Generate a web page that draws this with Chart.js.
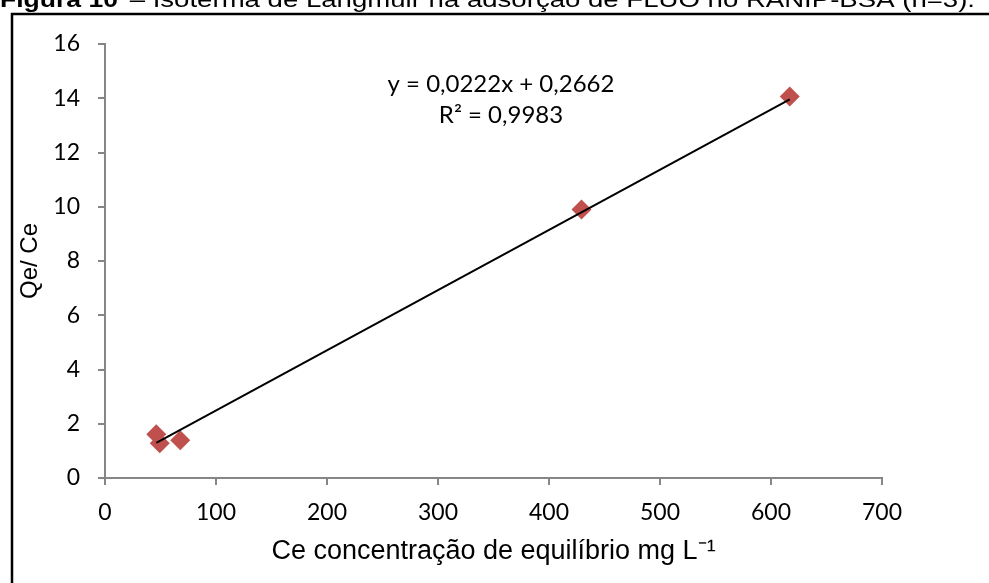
<!DOCTYPE html>
<html>
<head>
<meta charset="utf-8">
<script src="https://cdn.jsdelivr.net/npm/chart.js@4.4.1/dist/chart.umd.min.js"></script>
<style>
  html, body { margin: 0; padding: 0; background: #fff; }
  #wrap { width: 989px; height: 583px; }
</style>
</head>
<body>
<div id="wrap"><canvas id="chart" width="989" height="583"></canvas></div>
<script>
// Langmuir isotherm: Qe/Ce against the equilibrium concentration Ce
var ceValues = [46.2, 49.3, 67.8, 429.3, 616.9];
var qeCeValues = [1.61, 1.28, 1.39, 9.90, 14.06];
var xTicks = [0, 100, 200, 300, 400, 500, 600, 700];
var yTicks = [0, 2, 4, 6, 8, 10, 12, 14, 16];

// linear fit shown on the chart
var slope = 0.0222;
var intercept = 0.2662;
var rSquared = 0.9983;

var caption = ['Figura 10', ' – Isoterma de Langmuir na adsorção de FLUO no RANIP-BSA (n=3).'];

var AXIS_GREY = '#868686';

function ptBr(v, digits) {
  return v.toFixed(digits).replace('.', ',');
}

var points = ceValues.map(function (x, i) { return { x: x, y: qeCeValues[i] }; });
var xMin = Math.min.apply(null, ceValues);
var xMax = Math.max.apply(null, ceValues);
var trend = [
  { x: xMin, y: slope * xMin + intercept },
  { x: xMax, y: slope * xMax + intercept }
];

// draws text squeezed/stretched horizontally into [x0, x1]
function fitText(ctx, text, x0, x1, y) {
  var w = ctx.measureText(text).width;
  ctx.save();
  ctx.translate(x0, y);
  ctx.scale((x1 - x0) / w, 1);
  ctx.fillText(text, 0, 0);
  ctx.restore();
}

// caption strip, outer frame and the fit equation
var decorations = {
  id: 'decorations',
  beforeDraw: function (chart) {
    var ctx = chart.ctx;
    ctx.save();
    ctx.fillStyle = '#fff';
    ctx.fillRect(0, 0, chart.width, chart.height);

    // caption, only its lower half fits above the frame
    ctx.fillStyle = '#000';
    ctx.textBaseline = 'alphabetic';
    ctx.font = 'bold 22px "Liberation Sans", Arial, sans-serif';
    fitText(ctx, caption[0], 0, 118, 7);
    ctx.font = '22px "Liberation Sans", Arial, sans-serif';
    fitText(ctx, caption[1], 122, 975, 7);

    // frame
    ctx.strokeStyle = '#000';
    ctx.lineWidth = 2.5;
    ctx.beginPath();
    ctx.moveTo(12, chart.height);
    ctx.lineTo(12, 14);
    ctx.lineTo(chart.width, 14);
    ctx.stroke();
    ctx.restore();
  },
  afterDatasetsDraw: function (chart) {
    var ctx = chart.ctx;
    ctx.save();
    ctx.fillStyle = '#000';
    ctx.font = '24px Lato, sans-serif';
    ctx.textAlign = 'center';
    ctx.textBaseline = 'middle';
    ctx.fillText('y = ' + ptBr(slope, 4) + 'x + ' + ptBr(intercept, 4), 501, 84);
    ctx.fillText('R² = ' + ptBr(rSquared, 4), 501, 115);
    ctx.restore();
  }
};

new Chart(document.getElementById('chart'), {
  type: 'scatter',
  data: {
    datasets: [
      {
        type: 'line',
        label: 'Linear',
        data: trend,
        borderColor: '#000',
        borderWidth: 2,
        pointRadius: 0,
        fill: false,
        order: 0
      },
      {
        label: 'Qe/Ce',
        data: points,
        pointStyle: 'rectRot',
        pointRadius: 10,
        pointHoverRadius: 10,
        backgroundColor: '#C0504D',
        borderColor: '#C0504D',
        borderWidth: 0,
        order: 1
      }
    ]
  },
  options: {
    responsive: false,
    animation: false,
    layout: { padding: { top: 44, right: 107, left: 0, bottom: 0 } },
    plugins: {
      legend: { display: false },
      tooltip: { enabled: false }
    },
    scales: {
      x: {
        type: 'linear',
        min: 0,
        max: 700,
        afterBuildTicks: function (scale) {
          scale.ticks = xTicks.map(function (v) { return { value: v }; });
        },
        afterFit: function (scale) { scale.height = 105; },
        border: { color: AXIS_GREY, width: 2 },
        grid: { drawOnChartArea: false, drawTicks: true, tickLength: 7, color: AXIS_GREY, lineWidth: 2 },
        ticks: {
          padding: 14,
          maxRotation: 0,
          color: '#000',
          font: { family: 'Lato', size: 23 }
        },
        title: {
          display: true,
          text: 'Ce concentração de equilíbrio mg L⁻¹',
          color: '#000',
          font: { family: '"Liberation Sans", Arial', size: 27 },
          padding: { top: 4, bottom: 15 }
        }
      },
      y: {
        min: 0,
        max: 16,
        afterBuildTicks: function (scale) {
          scale.ticks = yTicks.map(function (v) { return { value: v }; });
        },
        afterFit: function (scale) { scale.width = 105; },
        border: { color: AXIS_GREY, width: 2 },
        grid: { drawOnChartArea: false, drawTicks: true, tickLength: 7, color: AXIS_GREY, lineWidth: 2 },
        ticks: {
          padding: 18,
          color: '#000',
          font: { family: 'Lato', size: 23 }
        },
        title: {
          display: true,
          text: 'Qe/ Ce',
          color: '#000',
          font: { family: '"Liberation Sans", Arial', size: 24 },
          padding: { top: 16, bottom: 0 }
        }
      }
    }
  },
  plugins: [decorations]
});
</script>
</body>
</html>
